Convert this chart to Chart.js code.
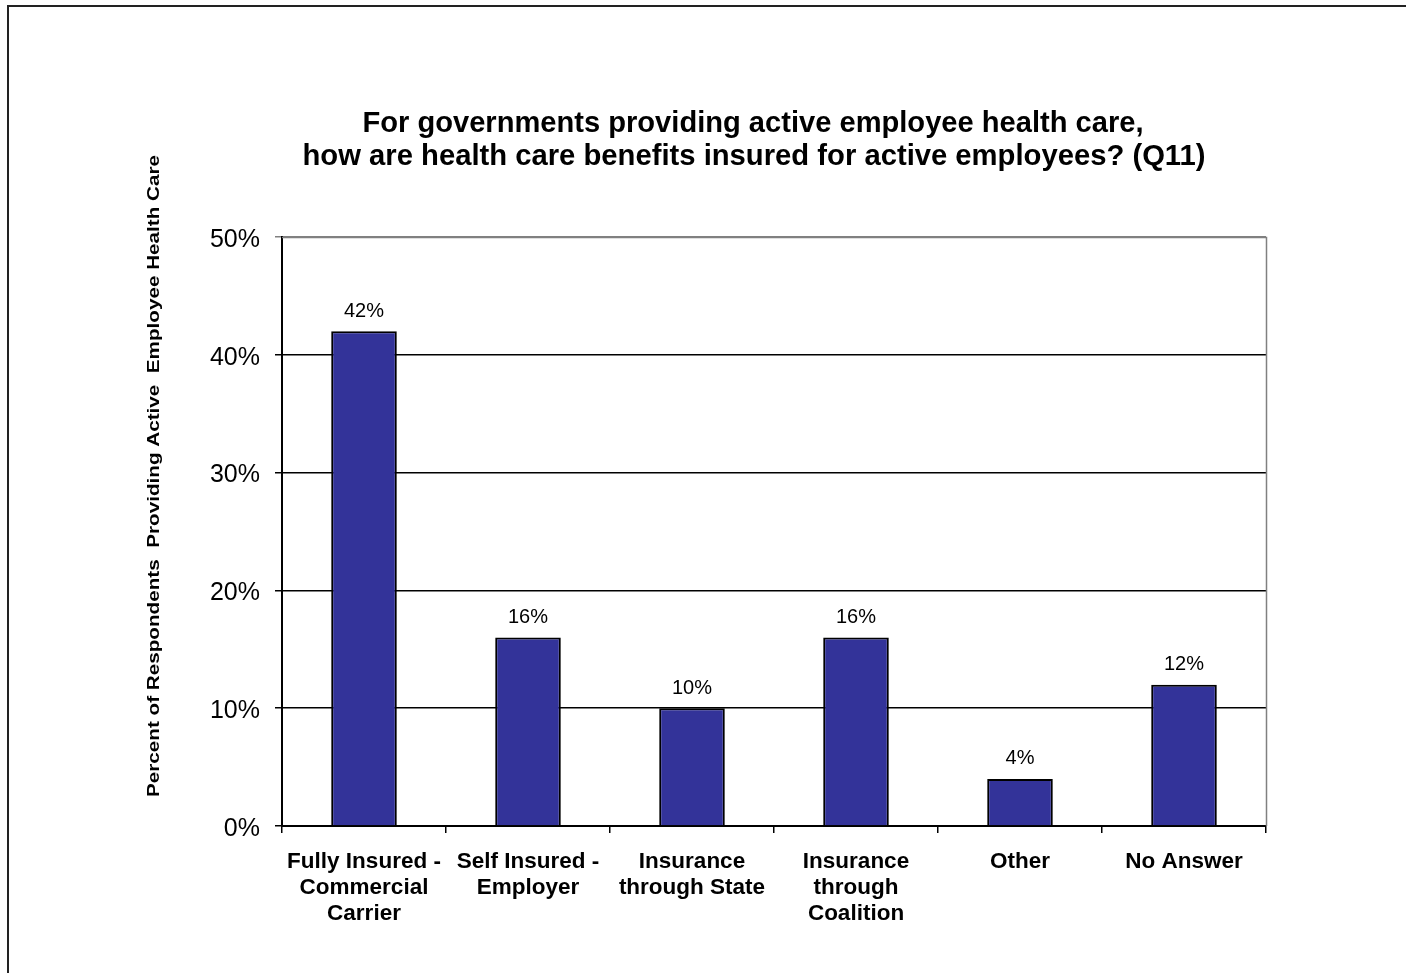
<!DOCTYPE html>
<html>
<head>
<meta charset="utf-8">
<script src="https://cdn.jsdelivr.net/npm/chart.js@4.4.1/dist/chart.umd.min.js"></script>
<style>
  html, body { margin: 0; padding: 0; background: #ffffff; }
  #wrap { width: 1406px; height: 973px; position: relative; }
</style>
</head>
<body>
<div id="wrap"><canvas id="chart" width="1406" height="973"></canvas></div>
<script>
// Survey results: how active-employee health care benefits are insured
const categories = [
  ['Fully Insured -', 'Commercial', 'Carrier'],
  ['Self Insured -', 'Employer'],
  ['Insurance', 'through State'],
  ['Insurance', 'through', 'Coalition'],
  ['Other'],
  ['No Answer']
];
const percentValues = [42, 16, 10, 16, 4, 12];
const yTickValues = [0, 10, 20, 30, 40, 50];
const titleLines = [
  'For governments providing active employee health care,',
  'how are health care benefits insured for active employees? (Q11)'
];
const yAxisTitle = 'Percent of Respondents  Providing Active  Employee Health Care';

const FONT = '"Liberation Sans", Arial, Helvetica, sans-serif';

// Draw text horizontally squeezed/stretched to a given width
function fitText(ctx, text, cx, cy, targetWidth) {
  const w = ctx.measureText(text).width;
  const s = targetWidth / w;
  ctx.save();
  ctx.translate(cx, cy);
  ctx.scale(s, 1);
  ctx.fillText(text, 0, 0);
  ctx.restore();
}

const decorPlugin = {
  id: 'decor',
  beforeDraw(chart) {
    const ctx = chart.ctx;
    ctx.save();
    ctx.fillStyle = '#ffffff';
    ctx.fillRect(0, 0, chart.width, chart.height);
    // outer frame
    ctx.strokeStyle = '#222222';
    ctx.lineWidth = 2;
    ctx.beginPath();
    ctx.moveTo(8, chart.height + 2);
    ctx.lineTo(8, 6);
    ctx.lineTo(chart.width + 2, 6);
    ctx.stroke();
    ctx.restore();
  },
  afterDatasetsDraw(chart) {
    const ctx = chart.ctx;
    const area = chart.chartArea;
    ctx.save();
    // plot area top and right edges
    ctx.strokeStyle = '#808080';
    ctx.lineWidth = 1.5;
    ctx.beginPath();
    ctx.moveTo(area.left, area.top + 0.5);
    ctx.lineTo(area.right + 0.5, area.top + 0.5);
    ctx.lineTo(area.right + 0.5, area.bottom);
    ctx.stroke();

    // value labels above bars
    ctx.fillStyle = '#000000';
    ctx.font = '20px ' + FONT;
    ctx.textAlign = 'center';
    ctx.textBaseline = 'middle';
    const meta = chart.getDatasetMeta(0);
    meta.data.forEach((bar, i) => {
      ctx.fillText(percentValues[i] + '%', bar.x, bar.y - 20);
    });

    // chart title
    ctx.font = 'bold 29px ' + FONT;
    ctx.textBaseline = 'middle';
    fitText(ctx, titleLines[0], 753, 124, 781);
    fitText(ctx, titleLines[1], 754, 157, 903);

    // y axis title
    ctx.font = 'bold 17px ' + FONT;
    ctx.save();
    ctx.translate(154, 476);
    ctx.rotate(-Math.PI / 2);
    fitText(ctx, yAxisTitle, 0, 0, 642);
    ctx.restore();
    ctx.restore();
  }
};

new Chart(document.getElementById('chart'), {
  type: 'bar',
  data: {
    labels: categories,
    datasets: [{
      data: percentValues,
      backgroundColor: '#333399',
      borderColor: '#000000',
      borderWidth: 2,
      barPercentage: 0.40,
      categoryPercentage: 1.0
    }]
  },
  options: {
    responsive: false,
    animation: false,
    devicePixelRatio: 1,
    layout: { padding: { top: 237, right: 140, bottom: 0, left: 0 } },
    plugins: {
      legend: { display: false },
      title: { display: false },
      tooltip: { enabled: false }
    },
    scales: {
      x: {
        offset: true,
        afterFit(scale) { scale.height = 147; },
        grid: {
          offset: true,
          drawOnChartArea: false,
          drawTicks: true,
          tickLength: 7,
          color: '#000000',
          lineWidth: 1.5
        },
        border: { display: true, color: '#000000', width: 2 },
        ticks: {
          color: '#000000',
          font: { family: FONT, size: 22.5, weight: 'bold', lineHeight: 1.16 },
          padding: 16,
          maxRotation: 0,
          autoSkip: false
        }
      },
      y: {
        min: 0,
        max: 50,
        afterFit(scale) { scale.width = 282; },
        afterBuildTicks(scale) { scale.ticks = yTickValues.map(v => ({ value: v })); },
        grid: {
          color: ctx => (ctx.tick && ctx.tick.value === 50 ? '#808080' : '#000000'),
          lineWidth: 1.5,
          drawTicks: true,
          tickLength: 7
        },
        border: { display: true, color: '#000000', width: 2 },
        ticks: {
          color: '#000000',
          font: { family: FONT, size: 25 },
          padding: 15,
          labelOffset: 3,
          callback: v => v + '%'
        }
      }
    }
  },
  plugins: [decorPlugin]
});
</script>
</body>
</html>
